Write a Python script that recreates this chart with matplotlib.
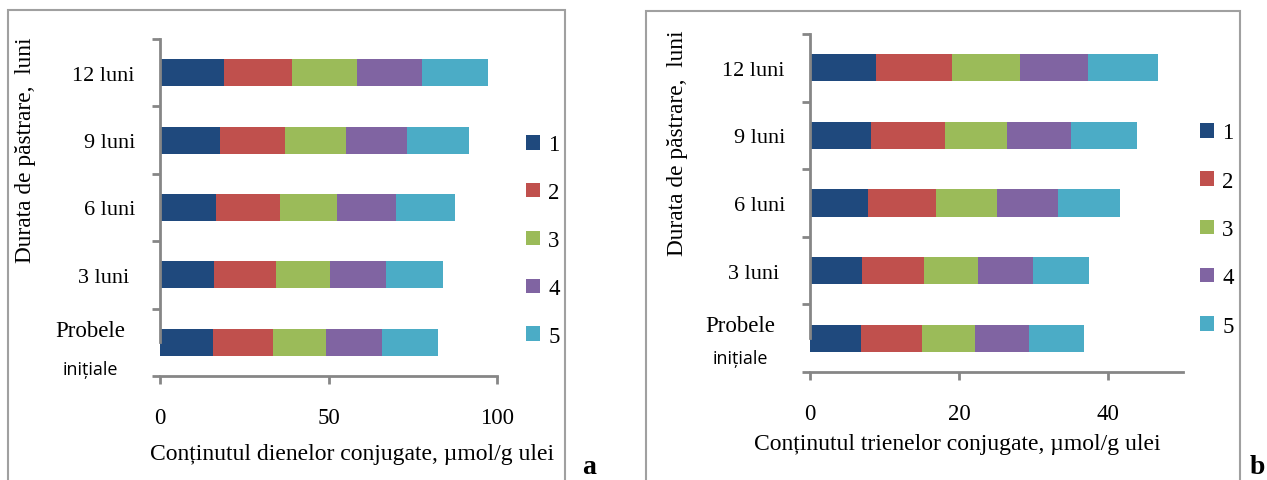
import matplotlib.pyplot as plt
import numpy as np
from matplotlib.patches import Rectangle
from matplotlib.transforms import blended_transform_factory

plt.rcParams['font.family'] = ['Liberation Serif', 'DejaVu Serif']

# categories bottom -> top
categories = ['', '3 luni ', '6 luni', '9 luni', '12 luni']
series_names = ['1', '2', '3', '4', '5']
colors = ['#1F497D', '#C0504D', '#9BBB59', '#8064A2', '#4BACC6']

# dienele conjugate (a)
dien_1 = [15.6, 16.0, 16.6, 17.8, 19.0]
dien_2 = [17.8, 18.4, 19.0, 19.3, 20.2]
dien_3 = [16.0, 16.0, 16.9, 18.1, 19.3]
dien_4 = [16.4, 16.6, 17.5, 18.1, 19.3]
dien_5 = [16.7, 17.0, 17.5, 18.4, 19.6]

# trienele conjugate (b)
trien_1 = [6.85, 7.0, 7.8, 8.2, 8.9]
trien_2 = [8.2, 8.3, 9.1, 9.9, 10.1]
trien_3 = [7.1, 7.2, 8.1, 8.3, 9.1]
trien_4 = [7.2, 7.4, 8.2, 8.6, 9.1]
trien_5 = [7.4, 7.5, 8.3, 8.9, 9.4]

fig = plt.figure(figsize=(12.67, 4.81), dpi=100)
axis_gray = '#868686'


def draw_panel(ax, data, xmax, xticks, xlabel, xl_pos, yl_pos, prob_x, prob_dy, init_dy, leg_anchor, leg_sp):
    y = np.arange(len(categories))
    left = np.zeros(len(categories))
    for vals, name, c in zip(data, series_names, colors):
        ax.barh(y, vals, left=left, height=0.4, color=c, label=name)
        left = left + np.array(vals)
    ax.set_xlim(0, xmax)
    ax.set_ylim(-0.5, len(categories) - 0.5)
    ax.set_xticks(xticks)
    ax.set_xticklabels([str(t) for t in xticks], fontsize=16.5)
    ax.set_yticks(y)
    ax.set_yticklabels(categories, fontsize=16)
    ax.set_yticks(np.arange(len(categories) + 1) - 0.5, minor=True)
    ax.tick_params(axis='y', which='major', length=0, pad=18)
    ax.tick_params(axis='y', which='minor', length=6, width=2, color=axis_gray, direction='out')
    ax.tick_params(axis='x', which='major', length=6, width=2, color=axis_gray, direction='out', pad=16)
    ax.spines['top'].set_visible(False)
    ax.spines['right'].set_visible(False)
    for s in ['left', 'bottom']:
        ax.spines[s].set_color(axis_gray)
        ax.spines[s].set_linewidth(2)
    ax.spines['left'].set_bounds(0, len(categories) - 0.5)
    ax.set_xlabel(xlabel, fontsize=17, va='center')
    ax.xaxis.set_label_coords(*xl_pos)
    ax.set_ylabel('Durata de păstrare,  luni', fontsize=16.8, va='center')
    ax.yaxis.set_label_coords(*yl_pos)
    tr = blended_transform_factory(ax.transAxes, ax.transData)
    ax.text(prob_x, prob_dy, 'Probele', transform=tr, ha='center', va='center', fontsize=16.5)
    ax.text(prob_x, init_dy, 'inițiale', transform=tr, ha='center', va='center', fontsize=13,
            family=['Open Sans', 'DejaVu Sans'])
    ax.legend(loc='upper left', bbox_to_anchor=leg_anchor, bbox_transform=fig.transFigure,
              frameon=False, fontsize=16.5, borderpad=0, handlelength=0.6, handleheight=0.6,
              handletextpad=0.35, labelspacing=leg_sp)


ax1 = fig.add_axes([160 / 1267, 1 - 377 / 481, 337 / 1267, 337 / 481])
draw_panel(ax1, [dien_1, dien_2, dien_3, dien_4, dien_5], 100, [0, 50, 100],
           'Conținutul dienelor conjugate, µmol/g ulei', (0.57, -0.231), (-0.398, 0.674),
           -0.208, 0.18, -0.39, (515 / 1267, 1 - 124 / 481), 1.17)

ax2 = fig.add_axes([810 / 1267, 1 - 373 / 481, 373 / 1267, 338 / 481])
draw_panel(ax2, [trien_1, trien_2, trien_3, trien_4, trien_5], 50, [0, 20, 40],
           'Conținutul trienelor conjugate, µmol/g ulei', (0.394, -0.213), (-0.355, 0.68),
           -0.188, 0.19, -0.30, (1189 / 1267, 1 - 112 / 481), 1.19)

# frames round the two panels
box_col = '#a0a0a0'
fig.add_artist(Rectangle((8 / 1267, -0.1), 557 / 1267, 1.1 - 11 / 481, transform=fig.transFigure,
                         fill=False, edgecolor=box_col, linewidth=1.5))
fig.add_artist(Rectangle((646 / 1267, -0.1), 594 / 1267, 1.1 - 12 / 481, transform=fig.transFigure,
                         fill=False, edgecolor=box_col, linewidth=1.5))

fig.text(582 / 1267, 1 - 480 / 481, 'a', fontsize=20, fontweight='bold', va='bottom')
fig.text(1250 / 1267, 1 - 480 / 481, 'b', fontsize=20, fontweight='bold', va='bottom')

plt.savefig('out.png', dpi=100)
